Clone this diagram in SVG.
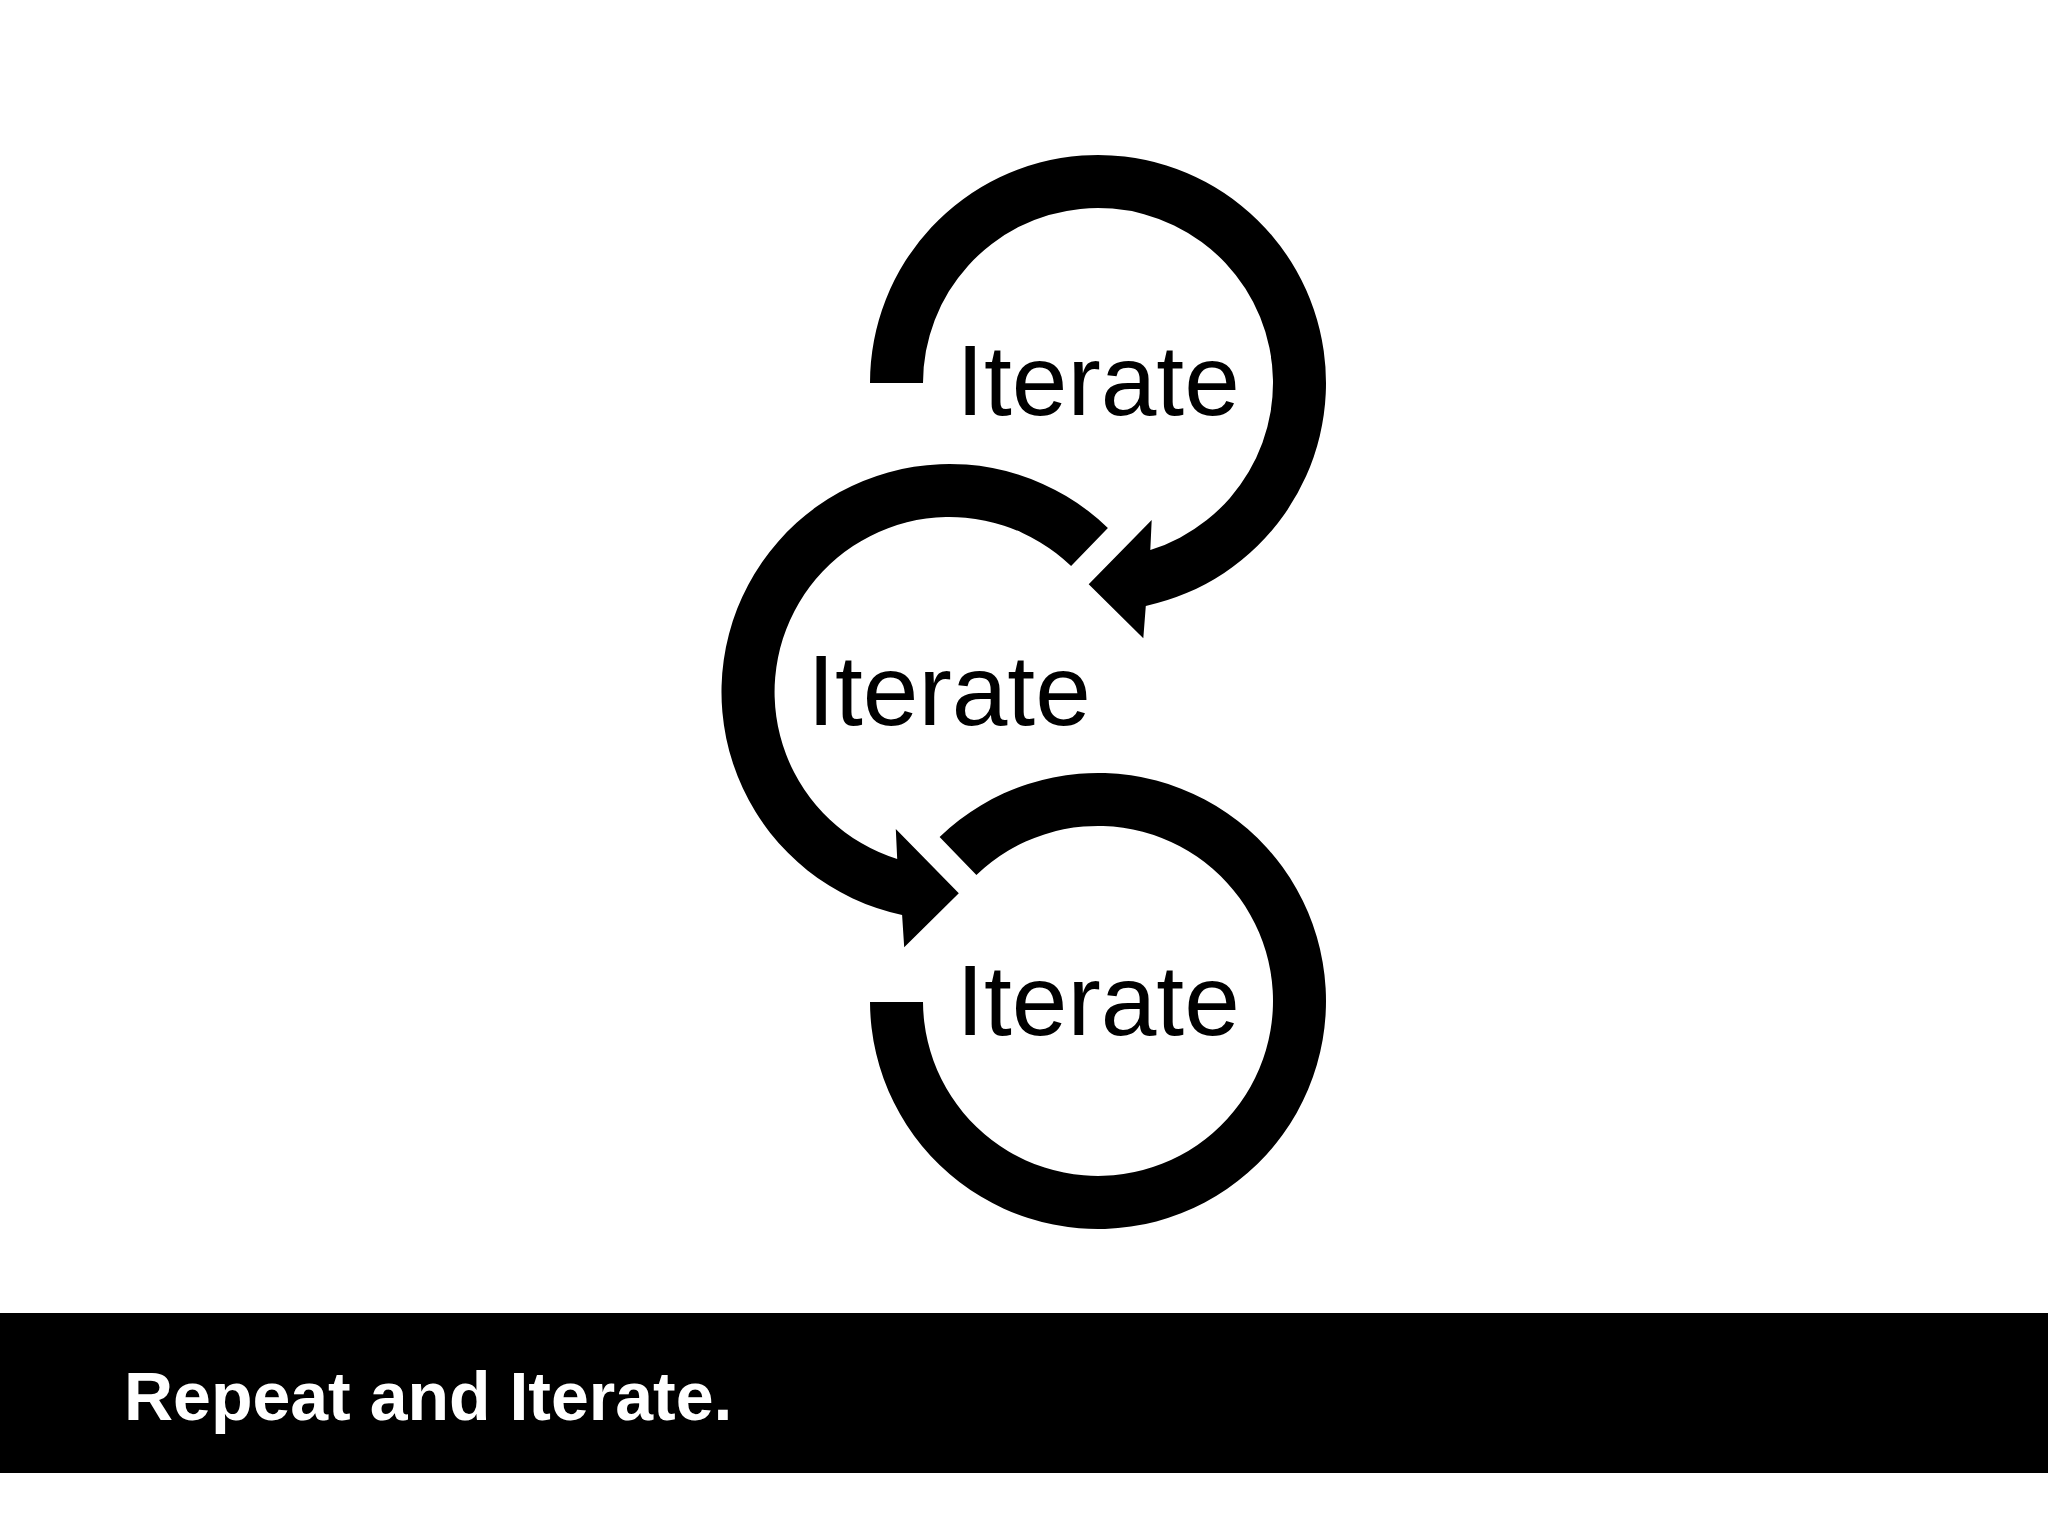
<svg xmlns="http://www.w3.org/2000/svg" width="2048" height="1536" viewBox="0 0 2048 1536">
  <style>
    .arc { fill: #000; stroke: none; }
    .lbl { font-family: "Liberation Sans", Arial, sans-serif; font-size: 100px; fill: #000; text-anchor: middle; }
    .foot { font-family: "Liberation Sans", Arial, sans-serif; font-size: 68px; font-weight: bold; fill: #fff; }
  </style>
  <rect width="2048" height="1536" fill="#fff"/>
  <g id="connectors">
    <path id="arc-top" class="arc" d="M 870 383 A 228 228 0 1 1 1145.8 605.9 L 1143.3 638.3 L 1088.7 584.3 L 1151.7 520 L 1150.3 550 A 175 175 0 1 0 923 383 Z"/>
    <path id="arc-middle" class="arc" d="M 1107.9 528 A 228 228 0 1 0 902.1 915 L 904.2 947.3 L 958.8 893.3 L 895.8 829 L 897.2 859 A 175 175 0 1 1 1071.1 566.1 Z"/>
    <path id="arc-bottom" class="arc" d="M 939.6 837 A 228 228 0 1 1 870 1002 L 923 1002 A 175 175 0 1 0 976.4 875.1 Z"/>
  </g>
  <g id="node-top">
    <text class="lbl" x="1098" y="415">Iterate</text>
  </g>
  <g id="node-middle">
    <text class="lbl" x="949" y="725">Iterate</text>
  </g>
  <g id="node-bottom">
    <text class="lbl" x="1098" y="1035">Iterate</text>
  </g>
  <g id="footer">
    <rect x="0" y="1313" width="2048" height="160" fill="#000"/>
    <text class="foot" x="124" y="1420">Repeat and Iterate.</text>
  </g>
</svg>
